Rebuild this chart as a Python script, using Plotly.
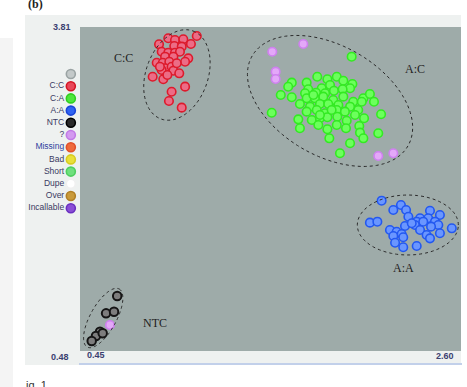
import numpy as np
import plotly.graph_objects as go

# Axis extents shown as tick labels
x_ticks = [0.45, 2.60]
y_ticks = [0.48, 3.81]

# Genotype clusters (allele X signal, allele Y signal)
cc_x = [1.109, 0.948, 0.986, 1.033, 1.076, 0.896, 0.982, 1.024, 0.911, 0.948, 0.986,
        1.014, 0.930, 0.977, 1.061, 1.043, 0.883, 0.917, 0.954, 0.930, 0.967, 0.911,
        0.977, 1.010, 0.860, 0.920, 0.943, 1.043, 0.967, 0.952, 1.024, 0.901, 0.996]
cc_y = [3.718, 3.694, 3.676, 3.684, 3.635, 3.632, 3.615, 3.608, 3.556, 3.546, 3.546,
        3.556, 3.505, 3.505, 3.488, 3.453, 3.443, 3.443, 3.453, 3.386, 3.402, 3.368,
        3.361, 3.334, 3.299, 3.273, 3.317, 3.197, 3.145, 3.050, 2.981, 3.402, 3.437]

ca_x = [1.983, 1.645, 1.625, 1.729, 1.789, 1.846, 1.899, 1.936, 1.987, 1.974, 1.861,
        1.814, 1.738, 1.720, 1.782, 1.833, 1.883, 1.932, 1.583, 1.645, 1.729, 1.776,
        1.823, 1.879, 1.936, 1.992, 2.049, 2.086, 2.109, 2.040, 1.691, 1.748, 1.804,
        1.851, 1.908, 1.974, 2.020, 1.532, 1.729, 1.786, 1.833, 1.899, 1.945, 2.002,
        2.053, 2.149, 1.682, 1.758, 1.804, 1.846, 1.902, 1.955, 1.691, 1.795, 1.846,
        1.899, 1.951, 2.026, 2.030, 2.133, 2.049, 1.857, 1.974, 1.917, 1.804, 1.870,
        1.767]
ca_y = [3.505, 3.238, 3.196, 3.238, 3.299, 3.273, 3.299, 3.258, 3.224, 3.180, 3.214,
        3.180, 3.170, 3.129, 3.135, 3.129, 3.155, 3.170, 3.111, 3.088, 3.077, 3.077,
        3.094, 3.060, 3.094, 3.042, 3.077, 3.121, 3.042, 3.042, 3.019, 2.991, 3.019,
        3.019, 3.008, 2.991, 2.957, 2.929, 2.940, 2.957, 2.923, 2.957, 2.940, 2.906,
        2.872, 2.913, 2.861, 2.854, 2.872, 2.882, 2.888, 2.847, 2.769, 2.803, 2.759,
        2.803, 2.769, 2.793, 2.724, 2.718, 2.666, 2.666, 2.615, 2.512, 2.906, 2.957,
        3.111]

aa_x = [2.152, 2.261, 2.218, 2.290, 2.425, 2.481, 2.303, 2.369, 2.415, 2.086, 2.128,
        2.350, 2.387, 2.453, 2.472, 2.284, 2.340, 2.431, 2.548, 2.199, 2.237, 2.369,
        2.265, 2.406, 2.481, 2.218, 2.425, 2.228, 2.274, 2.274, 2.350, 2.322]
aa_y = [2.025, 1.981, 1.929, 1.929, 1.922, 1.878, 1.860, 1.844, 1.844, 1.799, 1.809,
        1.809, 1.809, 1.809, 1.775, 1.765, 1.775, 1.758, 1.741, 1.724, 1.706, 1.724,
        1.683, 1.672, 1.690, 1.662, 1.638, 1.593, 1.649, 1.546, 1.559, 1.793]

ntc_x = [0.660, 0.597, 0.642, 0.563, 0.540, 0.516, 0.578]
ntc_y = [1.045, 0.867, 0.884, 0.678, 0.634, 0.583, 0.662]

unk_x = [1.535, 1.710, 1.554, 1.554, 2.133, 2.218, 0.619]
unk_y = [3.556, 3.635, 3.351, 3.276, 2.484, 2.512, 0.747]

# Cluster outlines: centre plus two conjugate semi-axis vectors
ellipses = {
    "C:C": ((0.997, 3.317), (0.0903, 0.4522), (0.1642, -0.1089)),
    "A:C": ((1.861, 3.050), (0.4396, -0.4625), (-0.1552, -0.4892)),
    "A:A": ((2.300, 1.775), (0.285, 0.0), (0.0, 0.308)),
    "NTC": ((0.581, 0.819), (0.0903, 0.2981), (0.0643, -0.0648)),
}
cluster_labels = ["C:C", "A:C", "A:A", "NTC"]
label_x = [0.693, 2.340, 2.273, 0.873]
label_y = [3.491, 3.378, 1.333, 0.768]

# Call-type key
key_labels = ["", "C:C", "C:A", "A:A", "NTC", "?", "Missing", "Bad", "Short",
              "Dupe", "Over", "Incallable"]
key_fill = ["#c3c9c9", "#e8485a", "#4ee63c", "#2f63f2", "#2a2a2a", "#d39af0",
            "#ef6a3c", "#e9e03a", "#6fe07e", "#ffffff", "#c99a3a", "#8a4fd6"]
key_edge = ["#9aa3a3", "#d41525", "#2fcf20", "#1a45d8", "#000000", "#c27ae6",
            "#e0502a", "#d8cc20", "#4fcf60", "#f0f0f0", "#b07f25", "#6a30c0"]
key_text = ["#3a3a62", "#3a3a62", "#3a3a62", "#3a3a62", "#3a3a62", "#3a3a62",
            "#2c3f9e", "#3a3a62", "#3a3a62", "#3a3a62", "#3a3a62", "#3a3a62"]

W, H = 467, 387


def px_x(p):
    return p / W


def px_y(p):
    return 1 - p / H


fig = go.Figure()


def add_cluster(xs, ys, fill, edge, width=1.6):
    fig.add_trace(go.Scatter(
        x=xs, y=ys, mode="markers", hoverinfo="skip", showlegend=False,
        marker=dict(size=8.5, color=fill, line=dict(color=edge, width=width)),
        xaxis="x", yaxis="y"))


add_cluster(cc_x, cc_y, "#ec6c86", "#dd1a2c")
add_cluster(ca_x, ca_y, "#6cff5c", "#33ea22")
add_cluster(aa_x, aa_y, "#6a96ff", "#2358f0")
add_cluster(ntc_x, ntc_y, "#7d7d7d", "#151515", 2.0)
add_cluster(unk_x, unk_y, "#e3a8f8", "#cf80ef")

# Key column beside the plot
fig.add_trace(go.Scatter(
    x=[0] * len(key_labels), y=list(range(len(key_labels))),
    mode="markers+text", text=key_labels, textposition="middle left",
    textfont=dict(family="Liberation Sans, Arial", size=8.5, color=key_text),
    marker=dict(size=9, color=key_fill, line=dict(color=key_edge, width=1.6)),
    hoverinfo="skip", showlegend=False, xaxis="x2", yaxis="y2", cliponaxis=False))

shapes = [
    # outer panel, left strip and the grey plotting field
    dict(type="rect", xref="paper", yref="paper", x0=px_x(0), x1=px_x(13),
         y0=px_y(387), y1=px_y(38), fillcolor="#f4f4f4", line=dict(width=0),
         layer="below"),
    dict(type="rect", xref="paper", yref="paper", x0=px_x(25), x1=px_x(461),
         y0=px_y(365), y1=px_y(15), fillcolor="#eef1f0", line=dict(width=0),
         layer="below"),
    dict(type="rect", xref="x domain", yref="y domain", x0=0, x1=1, y0=0, y1=1,
         fillcolor="#9eaba9", line=dict(width=0), layer="below"),
    dict(type="line", xref="paper", yref="paper", x0=px_x(79), x1=px_x(462),
         y0=px_y(364), y1=px_y(364), line=dict(color="#c2d0ea", width=2)),
]

t = np.linspace(0, 2 * np.pi, 120)
for name, (c, u, v) in ellipses.items():
    ex = c[0] + u[0] * np.cos(t) + v[0] * np.sin(t)
    ey = c[1] + u[1] * np.cos(t) + v[1] * np.sin(t)
    path = "M " + " L ".join(f"{a:.4f},{b:.4f}" for a, b in zip(ex, ey)) + " Z"
    shapes.append(dict(type="path", xref="x", yref="y", path=path,
                       line=dict(color="#2a2a2a", width=1.0, dash="dot")))

annotations = []
for lab, lx, ly in zip(cluster_labels, label_x, label_y):
    annotations.append(dict(x=lx, y=ly, xref="x", yref="y", text=lab,
                            showarrow=False,
                            font=dict(family="Liberation Serif, Times New Roman",
                                      size=12, color="#1e1e1e")))

tick_font = dict(family="Liberation Sans, Arial", size=9, color="#3b3f70")
annotations += [
    dict(x=px_x(73), y=px_y(27), xref="paper", yref="paper", xanchor="right",
         yanchor="middle", text=f"<b>{y_ticks[1]:.2f}</b>", showarrow=False,
         font=tick_font),
    dict(x=px_x(71), y=px_y(357), xref="paper", yref="paper", xanchor="right",
         yanchor="middle", text=f"<b>{y_ticks[0]:.2f}</b>", showarrow=False,
         font=tick_font),
    dict(x=px_x(85), y=px_y(355), xref="paper", yref="paper", xanchor="left",
         yanchor="middle", text=f"<b>{x_ticks[0]:.2f}</b>", showarrow=False,
         font=tick_font),
    dict(x=px_x(456), y=px_y(356), xref="paper", yref="paper", xanchor="right",
         yanchor="middle", text=f"<b>{x_ticks[1]:.2f}</b>", showarrow=False,
         font=tick_font),
    dict(x=px_x(26), y=px_y(4), xref="paper", yref="paper", xanchor="left",
         yanchor="middle", text="<b>(b)</b>", showarrow=False,
         font=dict(family="Liberation Serif", size=12, color="#222")),
    dict(x=px_x(24), y=px_y(385), xref="paper", yref="paper", xanchor="left",
         yanchor="middle", text="ig. 1", showarrow=False,
         font=dict(family="Liberation Sans", size=11, color="#333")),
]

fig.update_layout(
    width=W, height=H, margin=dict(l=0, r=0, t=0, b=0),
    paper_bgcolor="#ffffff", plot_bgcolor="#9eaba9",
    xaxis=dict(domain=[px_x(80), px_x(461)], range=x_ticks, showgrid=False,
               zeroline=False, showticklabels=False, ticks=""),
    yaxis=dict(domain=[px_y(351), px_y(27)], range=y_ticks, showgrid=False,
               zeroline=False, showticklabels=False, ticks=""),
    xaxis2=dict(domain=[px_x(25), px_x(80)], range=[-1, 0.2], visible=False,
                anchor="y2"),
    yaxis2=dict(domain=[px_y(214.3), px_y(67.9)], range=[11.5, -0.5],
                visible=False, anchor="x2"),
    shapes=shapes, annotations=annotations,
)

fig.write_html("out.html")
